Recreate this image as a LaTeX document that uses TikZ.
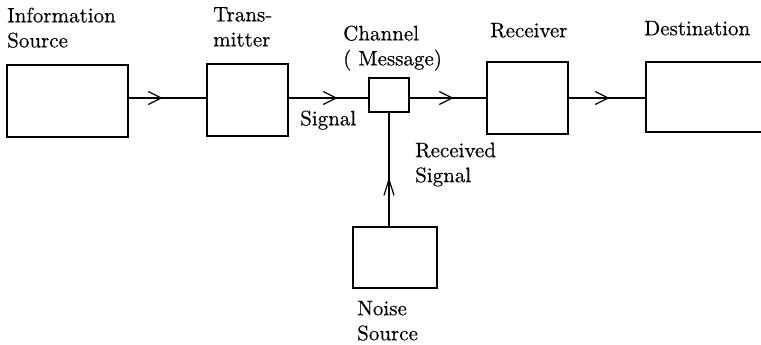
\documentclass[tikz,border=0pt]{standalone}
\usepackage{fontspec}
\setmainfont{lmroman10-regular.otf}[FakeBold=0.4]
\usetikzlibrary{arrows.meta,decorations.markings}
\begin{document}
\begin{tikzpicture}[x=1pt,y=-1pt,
  blk/.style={draw, line width=1.3pt, inner sep=0pt},
  lbl/.style={anchor=north west, inner sep=0pt, align=left, font=\fontsize{21}{25}\selectfont},
  conn/.style={line width=1.2pt},
  hmark/.style={postaction=decorate, decoration={markings, mark=at position #1 with {\arrow{Straight Barb[length=13pt,width=13pt,line width=1.2pt]}}}},
  vmark/.style={postaction=decorate, decoration={markings, mark=at position #1 with {\arrow{Straight Barb[length=16pt,width=10pt,line width=1.2pt]}}}}
]
\useasboundingbox (0,0) rectangle (761,345);
\fill[white] (0,0) rectangle (761,345);

% boxes
\node[blk, minimum width=121pt, minimum height=72pt] (IS) at (67.5,101) {};
\node[blk, minimum width=81pt, minimum height=72pt] (T) at (247.5,100) {};
\node[blk, minimum width=40pt, minimum height=34pt] (C) at (389,95) {};
\node[blk, minimum width=81pt, minimum height=72pt] (R) at (527.5,98) {};
\node[blk, minimum width=129pt, minimum height=70pt] (D) at (710.5,97) {};
\node[blk, minimum width=84pt, minimum height=61pt] (N) at (395,257.5) {};

% labels
\node[lbl] (lIS) at (7,7.4) {Information\\Source};
\node[lbl] (lT) at (213,7) {Trans-\\mitter};
\node[lbl] (lC) at (343,25.4) {Channel\\( Message)};
\node[lbl] (lR) at (490,22.7) {Receiver};
\node[lbl] (lD) at (644,20.7) {Destination};
\node[lbl] (lS) at (300,110.4) {Signal};
\node[lbl] (lRS) at (415,142.4) {Received\\Signal};
\node[lbl] (lN) at (357,300.7) {Noise\\Source};

% connectors
\coordinate (ly) at (0,98);
\draw[conn, hmark=34pt] (IS.east |- ly) -- (T.west |- ly);
\draw[conn, hmark=49pt] (T.east |- ly) -- (C.west |- ly);
\draw[conn, hmark=44pt] (C.east |- ly) -- (R.west |- ly);
\draw[conn, hmark=41pt] (R.east |- ly) -- (D.west |- ly);
\draw[conn, vmark=49pt] (C.south |- N.north) -- (C.south);
\end{tikzpicture}
\end{document}
